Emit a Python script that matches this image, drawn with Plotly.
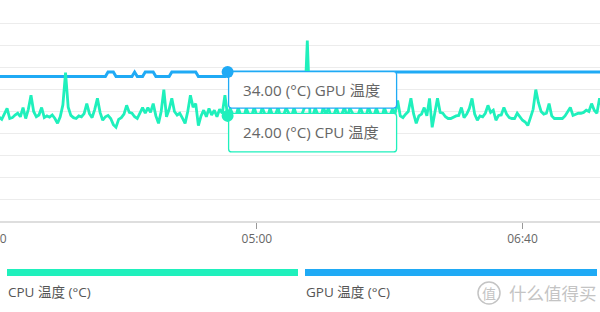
import pandas as pd
import plotly.graph_objects as go

# ---------------- data ----------------
start_time = "2021-01-01 03:20"
cpu_temp = [
    24.0, 23.5, 24.5, 23.7, 23.2, 24.6, 25.7, 23.4, 23.6, 24.2,
    24.6, 23.8, 25.9, 23.4, 25.5, 28.7, 25.0, 23.8, 24.2, 25.9,
    23.6, 24.0, 23.7, 24.2, 23.4, 22.3, 23.8, 26.5, 33.9, 26.0,
    24.1, 23.6, 23.4, 24.0, 23.8, 24.5, 26.8, 24.5, 23.6, 25.5,
    28.0, 24.8, 23.0, 23.8, 24.1, 23.4, 22.0, 21.4, 23.2, 23.6,
    24.4, 26.4, 24.8, 24.6, 23.8, 23.4, 24.5, 25.9, 24.6, 25.9,
    24.8, 26.8, 24.0, 22.3, 25.0, 30.0, 23.8, 25.5, 28.0, 25.0,
    24.2, 24.6, 23.5, 22.3, 25.0, 28.7, 26.0, 26.8, 21.8, 24.0,
    25.3, 23.8, 25.7, 24.2, 25.3, 23.8, 25.5, 24.6, 28.7, 24.0,
    25.7, 24.2, 23.6, 25.9, 24.0, 23.4, 25.8, 24.2, 23.8, 26.0,
    24.0, 23.6, 25.9, 24.4, 23.6, 25.8, 23.8, 24.2, 26.0, 23.4,
    24.0, 25.8, 24.6, 23.6, 25.9, 24.0, 23.2, 24.4, 26.0, 41.2,
    24.4, 23.8, 25.8, 24.2, 23.4, 26.0, 24.4, 25.8, 23.6, 24.2,
    25.9, 23.8, 24.4, 26.0, 23.6, 25.8, 24.6, 23.4, 24.0, 25.9,
    24.2, 23.6, 26.0, 24.4, 23.8, 25.8, 24.0, 23.4, 25.9, 24.2,
    23.8, 25.6, 24.4, 27.5, 24.0, 23.6, 24.4, 25.0, 28.0, 24.5,
    22.3, 24.0, 24.4, 25.9, 24.0, 28.0, 21.4, 25.0, 28.0, 24.8,
    24.6, 23.8, 23.4, 23.4, 23.8, 24.0, 24.1, 25.9, 23.6, 24.4,
    25.7, 28.0, 24.4, 23.0, 24.0, 23.8, 24.6, 26.4, 24.8, 25.3,
    23.0, 24.1, 24.2, 25.9, 24.4, 23.6, 23.4, 23.4, 24.6, 23.8,
    23.0, 22.6, 21.8, 23.6, 25.5, 30.0, 27.0, 25.0, 24.4, 24.6,
    26.8, 24.0, 23.4, 23.4, 23.4, 23.4, 24.0, 25.0, 25.9, 24.1,
    24.4, 24.6, 24.6, 24.8, 25.3, 25.0, 26.8, 25.3, 24.6, 28.0,
    26.0,
]
gpu_temp = [
    33, 33, 33, 33, 33, 33, 33, 33, 33, 33,
    33, 33, 33, 33, 33, 33, 33, 33, 33, 33,
    33, 33, 33, 33, 33, 33, 33, 33, 33, 33,
    33, 33, 33, 33, 33, 33, 33, 33, 33, 33,
    33, 33, 33, 33, 34, 34, 34, 33, 33, 33,
    33, 33, 33, 33, 34, 33, 33, 33, 34, 34,
    34, 34, 33, 33, 33, 33, 33, 33, 34, 34,
    34, 34, 34, 34, 34, 34, 34, 34, 33, 33,
    33, 33, 33, 33, 33, 33, 33, 33, 33, 34,
    34, 34, 34, 34, 34, 34, 34, 34, 34, 34,
    34, 34, 34, 34, 34, 34, 34, 34, 34, 34,
    34, 34, 34, 34, 34, 34, 34, 34, 34, 34,
    34, 34, 34, 34, 34, 34, 34, 34, 34, 34,
    34, 34, 34, 34, 34, 34, 34, 34, 34, 34,
    34, 34, 34, 34, 34, 34, 34, 34, 34, 34,
    34, 34, 34, 34, 34, 34, 34, 34, 34, 34,
    34, 34, 34, 34, 34, 34, 34, 34, 34, 34,
    34, 34, 34, 34, 34, 34, 34, 34, 34, 34,
    34, 34, 34, 34, 34, 34, 34, 34, 34, 34,
    34, 34, 34, 34, 34, 34, 34, 34, 34, 34,
    34, 34, 34, 34, 34, 34, 34, 34, 34, 34,
    34, 34, 34, 34, 34, 34, 34, 34, 34, 34,
    34, 34, 34, 34, 34, 34, 34, 34, 34, 34,
    34,
]
series_names = ["CPU 温度", "GPU 温度"]
unit = "(°C)"
hover_index = 89
x_view = ["2021-01-01 03:23:20", "2021-01-01 07:09:10"]
hidden_left_tick = "03:20"
watermark = "什么值得买"

# ---------------- style ----------------
CPU_C = "#1ff0bc"
GPU_C = "#1faaf5"
FONT = "Open Sans, Noto Sans CJK SC, sans-serif"
W, H = 600, 312
PT, PB = 2, 221  # plot top / bottom in px


def py(p):  # pixel y -> paper
    return (PB - p) / (PB - PT)


def px(p):
    return p / W


times = pd.date_range(start_time, periods=len(cpu_temp), freq="min")

fig = go.Figure()
fig.add_trace(go.Scatter(x=times, y=gpu_temp, mode="lines",
                         line=dict(color=GPU_C, width=3), name=series_names[1]))
fig.add_trace(go.Scatter(x=times, y=cpu_temp, mode="lines",
                         line=dict(color=CPU_C, width=2.8), name=series_names[0]))


def rrect(x0, x1, yt, yb, r=3):
    return (f"M {x0+r},{yt} L {x1-r},{yt} Q {x1},{yt} {x1},{yt-r} "
            f"L {x1},{yb+r} Q {x1},{yb} {x1-r},{yb} L {x0+r},{yb} "
            f"Q {x0},{yb} {x0},{yb+r} L {x0},{yt-r} Q {x0},{yt} {x0+r},{yt} Z")


ht = times[hover_index]
gv = gpu_temp[hover_index]
cv = cpu_temp[hover_index]
shapes = []
# tooltip boxes anchored on hovered points
shapes.append(dict(type="path", xref="x", yref="y", xsizemode="pixel", ysizemode="pixel",
                   xanchor=ht, yanchor=gv, path=rrect(1, 169, 0.5, -36),
                   fillcolor="white", line=dict(color=GPU_C, width=1.3), layer="above"))
shapes.append(dict(type="path", xref="x", yref="y", xsizemode="pixel", ysizemode="pixel",
                   xanchor=ht, yanchor=cv, path=rrect(1, 169, 2.5, -36),
                   fillcolor="white", line=dict(color=CPU_C, width=1.3), layer="above"))
# hover dots
for val, col in ((gv, GPU_C), (cv, CPU_C)):
    shapes.append(dict(type="circle", xref="x", yref="y", xsizemode="pixel", ysizemode="pixel",
                       xanchor=ht, yanchor=val, x0=-6, x1=6, y0=-6, y1=6,
                       fillcolor=col, line=dict(color=col, width=0), layer="above"))
# legend bars
shapes.append(dict(type="rect", xref="paper", yref="paper", x0=px(7), x1=px(298),
                   y0=py(269), y1=py(276), fillcolor=CPU_C, line=dict(width=0)))
shapes.append(dict(type="rect", xref="paper", yref="paper", x0=px(305), x1=px(597),
                   y0=py(269), y1=py(276), fillcolor=GPU_C, line=dict(width=0)))
# watermark circle
shapes.append(dict(type="circle", xref="paper", yref="paper", x0=px(478), x1=px(500),
                   y0=py(282), y1=py(304), fillcolor="rgba(0,0,0,0)",
                   line=dict(color="#c4c4c4", width=1.5)))

annotations = [
    dict(text=f"{gv:.2f} {unit} {series_names[1]}", xref="x", yref="y", x=ht, y=gv,
         xanchor="left", yanchor="middle", xshift=13, yshift=-18, showarrow=False,
         font=dict(family=FONT, size=15.2, color="#666")),
    dict(text=f"{cv:.2f} {unit} {series_names[0]}", xref="x", yref="y", x=ht, y=cv,
         xanchor="left", yanchor="middle", xshift=13, yshift=-16.5, showarrow=False,
         font=dict(family=FONT, size=15.2, color="#666")),
    dict(text=f"{series_names[0]} {unit}", xref="paper", yref="paper", x=px(6), y=py(292),
         xanchor="left", yanchor="middle", showarrow=False,
         font=dict(family=FONT, size=13.5, color="#555")),
    dict(text=f"{series_names[1]} {unit}", xref="paper", yref="paper", x=px(304), y=py(292),
         xanchor="left", yanchor="middle", showarrow=False,
         font=dict(family=FONT, size=13.5, color="#555")),
    dict(text=hidden_left_tick, xref="paper", yref="paper", x=px(-8.7), y=py(238),
         xanchor="center", yanchor="middle", showarrow=False,
         font=dict(family=FONT, size=12, color="#666")),
    dict(text="值", xref="paper", yref="paper", x=px(489), y=py(293),
         xanchor="center", yanchor="middle", showarrow=False,
         font=dict(family=FONT, size=14, color="#c4c4c4")),
    dict(text=watermark, xref="paper", yref="paper", x=px(507), y=py(293),
         xanchor="left", yanchor="middle", showarrow=False,
         font=dict(family=FONT, size=17.5, color="#c4c4c4")),
]

fig.update_layout(
    width=W, height=H, autosize=False,
    margin=dict(l=0, r=0, t=PT, b=H - PB, pad=0),
    paper_bgcolor="white", plot_bgcolor="white",
    showlegend=False, hovermode=False,
    font=dict(family=FONT, size=12, color="#666"),
    shapes=shapes, annotations=annotations,
    xaxis=dict(type="date", range=x_view, showgrid=False, zeroline=False,
               showline=True, linecolor="#dedede", linewidth=2,
               ticks="outside", ticklen=6, tickcolor="#999", tickwidth=1,
               tick0="2021-01-01 05:00", dtick=100 * 60 * 1000, tickformat="%H:%M",
               tickfont=dict(family=FONT, size=12, color="#666")),
    yaxis=dict(range=[0, 50], dtick=5, showgrid=True, gridcolor="#ececec", gridwidth=1,
               zeroline=False, showticklabels=False, showline=False, ticks=""),
)

fig.write_html("out.html", config={"displayModeBar": False})
